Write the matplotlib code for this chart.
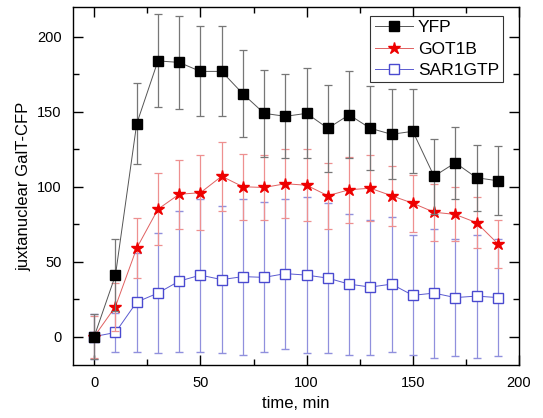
import matplotlib.pyplot as plt
from matplotlib.ticker import MultipleLocator

plt.rcParams['font.family'] = ['Liberation Sans', 'DejaVu Sans']

time = [0, 10, 20, 30, 40, 50, 60, 70, 80, 90, 100, 110, 120, 130, 140, 150, 160, 170, 180, 190]

yfp = [0, 41, 142, 184, 183, 177, 177, 162, 149, 147, 149, 139, 148, 139, 135, 137, 107, 116, 106, 104]
yfp_err = [15, 24, 27, 31, 31, 30, 30, 29, 29, 28, 30, 29, 29, 28, 30, 28, 25, 24, 22, 23]

got1b = [0, 20, 59, 85, 95, 96, 107, 100, 99.5, 102, 101, 94, 98, 99, 94, 89, 83, 81.5, 76, 62]
got1b_err = [14, 16, 20, 24, 23, 25, 23, 22, 22, 23, 24, 22, 22, 22, 20, 19, 19, 18, 17, 16]

sar1gtp = [0, 2.7, 23, 29, 37, 41, 38, 40, 39.5, 42, 41, 39, 35, 33, 35, 27.5, 29, 26, 27, 26]
sar1gtp_err = [15, 13, 33, 40, 47, 51, 49, 52, 50, 50, 52, 50, 47, 45, 45, 40, 43, 39, 41, 39]

fig = plt.figure(figsize=(5.43, 4.18), dpi=100)
ax = fig.add_axes([0.1344, 0.1268, 0.8214, 0.8565])

ax.errorbar(time, sar1gtp, yerr=sar1gtp_err, color='#5a5ad0', ecolor='#9090dd',
            elinewidth=0.9, capsize=3, capthick=0.9, linewidth=0.7, marker='s',
            markersize=6.5, markerfacecolor='white', markeredgecolor='#4a4ad0',
            markeredgewidth=1, label='SAR1GTP', zorder=2)
ax.errorbar(time, got1b, yerr=got1b_err, color='#e06060', ecolor='#ee9090',
            elinewidth=0.9, capsize=3, capthick=0.9, linewidth=0.7, marker='*',
            markersize=9, markerfacecolor='#ee0000', markeredgecolor='#ee0000',
            label='GOT1B', zorder=3)
ax.errorbar(time, yfp, yerr=yfp_err, color='#555555', ecolor='#777777',
            elinewidth=0.9, capsize=3, capthick=0.9, linewidth=0.7, marker='s',
            markersize=6.5, markerfacecolor='black', markeredgecolor='black',
            label='YFP', zorder=4)

ax.set_xlim(-10, 200)
ax.set_ylim(-19, 220)
ax.xaxis.set_major_locator(MultipleLocator(50))
ax.xaxis.set_minor_locator(MultipleLocator(25))
ax.yaxis.set_major_locator(MultipleLocator(50))
ax.yaxis.set_minor_locator(MultipleLocator(25))
ax.tick_params(which='both', direction='in', top=True, right=True, labelsize=10.5, width=1)
ax.tick_params(which='major', length=7, pad=8)
ax.tick_params(which='minor', length=4)
for s in ax.spines.values():
    s.set_linewidth(1)

ax.set_xlabel('time, min', fontsize=12)
ax.set_ylabel('juxtanuclear GalT-CFP', fontsize=12)

handles, labels = ax.get_legend_handles_labels()
order = [2, 1, 0]
leg = ax.legend([handles[i][0] for i in order], [labels[i] for i in order],
                loc='upper right', fontsize=12.5, fancybox=False, edgecolor='black',
                handlelength=2.2, handletextpad=0.3, borderpad=0.25, labelspacing=0.35,
                borderaxespad=0, bbox_to_anchor=(0.965, 0.975))
leg.get_frame().set_linewidth(0.8)

plt.savefig('out.png')
